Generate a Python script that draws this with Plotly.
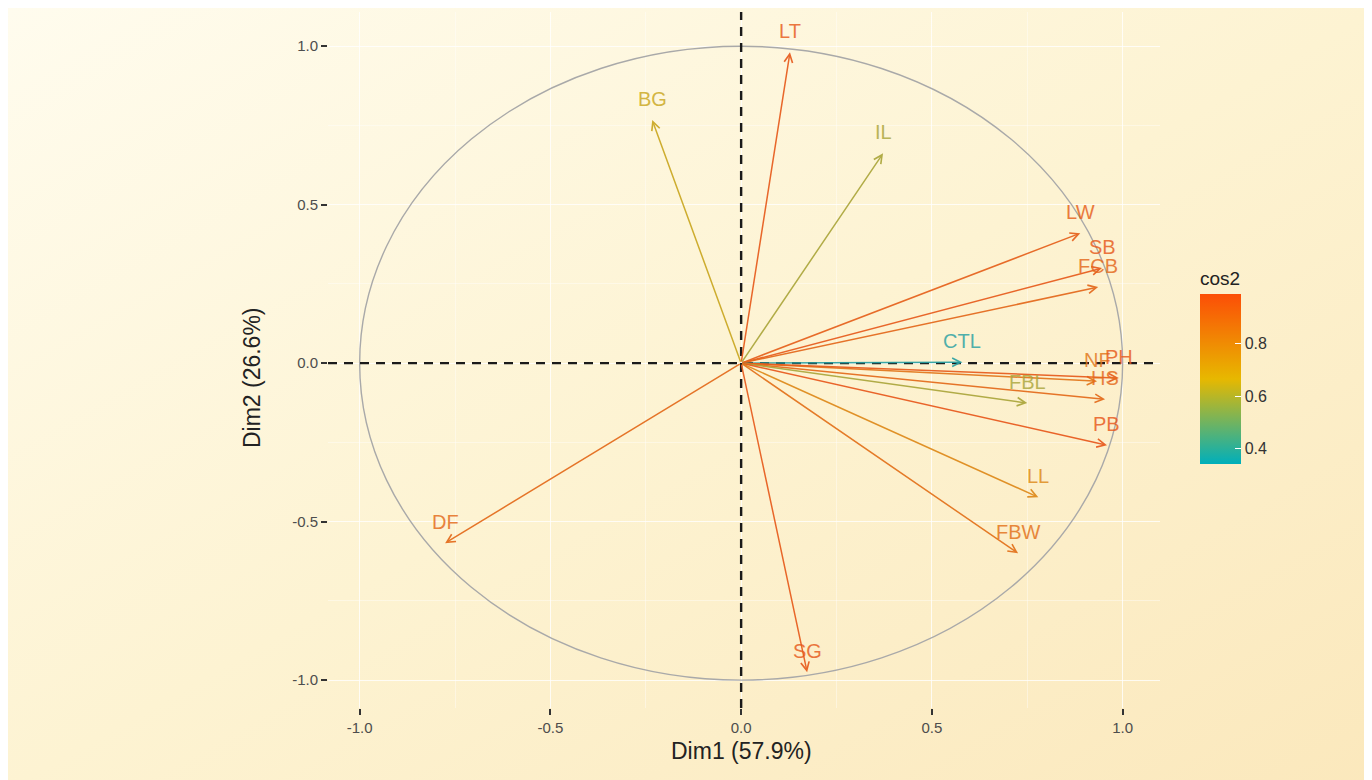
import base64
import plotly.graph_objects as go
from plotly.colors import sample_colorscale, unlabel_rgb

# ---- data ----
variables = ["LT", "BG", "IL", "LW", "SB", "FCB", "CTL", "NF", "PH", "HS",
             "FBL", "PB", "LL", "FBW", "SG", "DF"]
dim1 = [0.128, -0.233, 0.372, 0.889, 0.946, 0.936, 0.580, 0.933, 0.990, 0.954,
        0.750, 0.959, 0.779, 0.726, 0.173, -0.776]
dim2 = [0.981, 0.767, 0.662, 0.410, 0.300, 0.240, 0.003, -0.057, -0.047, -0.114,
        -0.126, -0.259, -0.423, -0.600, -0.975, -0.568]
cos2 = [0.98, 0.64, 0.58, 0.96, 0.98, 0.93, 0.34, 0.87, 0.98, 0.92,
        0.58, 0.99, 0.79, 0.89, 0.98, 0.92]
tick_vals = [-1.0, -0.5, 0.0, 0.5, 1.0]
tick_text = ["-1.0", "-0.5", "0.0", "0.5", "1.0"]
cbar_ticks = [0.4, 0.6, 0.8]
x_title = "Dim1 (57.9%)"
y_title = "Dim2 (26.6%)"
cbar_title = "cos2"

colorscale = [[0.0, "#00AFBB"], [0.5, "#E7B800"], [1.0, "#FC4E07"]]
cmin, cmax = min(cos2), max(cos2)

FONT = "Liberation Sans, Arial, Helvetica, sans-serif"
W, H = 1372, 780
OFF = 8  # page body margin
L, R, T, B = 320, 220, 4, 80
dom_w = W - L - R
dom_h = H - T - B


def fig_x(px):   # screen pixel -> paper x
    return (px - OFF - L) / dom_w


def fig_y(py):   # screen pixel -> paper y
    return (H - B - (py - OFF)) / dom_h


fig = go.Figure()

# dummy trace carrying the colour scale
fig.add_trace(go.Scatter(
    x=dim1, y=dim2, mode="markers", hoverinfo="skip", showlegend=False,
    marker=dict(size=0.1, opacity=0, color=cos2, colorscale=colorscale,
                cmin=cmin, cmax=cmax, showscale=True,
                colorbar=dict(
                    title=dict(text=cbar_title, side="top",
                               font=dict(size=19, color="#222", family=FONT)),
                    thickness=41, len=196, lenmode="pixels",
                    x=fig_x(1200), xanchor="left",
                    y=fig_y(366), yanchor="middle",
                    tickvals=cbar_ticks, ticks="inside", ticklen=6,
                    tickcolor="white", tickwidth=1.2,
                    tickfont=dict(size=16, color="#333", family=FONT),
                    outlinewidth=0, ypad=0, xpad=0,
                ))))

# correlation circle
fig.add_shape(type="circle", xref="x", yref="y", x0=-1, y0=-1, x1=1, y1=1,
              line=dict(color="#A9A9A9", width=1.4))
# dashed axes
fig.add_hline(y=0, line=dict(color="#1a1a1a", width=2.4, dash="9px,7px"))
fig.add_vline(x=0, line=dict(color="#1a1a1a", width=2.4, dash="9px,7px"))


def muted(rgb_str, k=0.25, base=(170, 120, 90)):
    r, g, b = unlabel_rgb(rgb_str)
    return "rgb(%d,%d,%d)" % tuple(int(round((1 - k) * c + k * m))
                                   for c, m in zip((r, g, b), base))


cols = [muted(sample_colorscale(colorscale, [(c - cmin) / (cmax - cmin)])[0])
        for c in cos2]

for name, x, y, col in zip(variables, dim1, dim2, cols):
    fig.add_annotation(x=x, y=y, ax=0, ay=0, xref="x", yref="y",
                       axref="x", ayref="y", text="", showarrow=True,
                       arrowhead=5, arrowsize=1.1, arrowwidth=1.5,
                       arrowcolor=col, standoff=0, opacity=0.92)
for name, x, y, col in zip(variables, dim1, dim2, cols):
    fig.add_annotation(x=x, y=y, xref="x", yref="y", text=name,
                       showarrow=False, yshift=21, xanchor="center",
                       yanchor="middle", opacity=0.82,
                       font=dict(size=20, color=col, family=FONT))

# axis titles
fig.add_annotation(x=0, y=0, xref="x", yref="paper", text=x_title,
                   showarrow=False, yanchor="top", yshift=-28,
                   font=dict(size=23, color="#222", family=FONT))
fig.add_annotation(x=fig_x(252), y=-0.047, xref="paper", yref="y",
                   text=y_title, textangle=-90, showarrow=False,
                   xanchor="center", yanchor="middle",
                   font=dict(size=23, color="#222", family=FONT))

grid_major = "rgba(255,255,255,0.65)"
grid_minor = "rgba(255,255,255,0.4)"
axis_common = dict(
    tickvals=tick_vals, ticktext=tick_text, showgrid=True, gridcolor=grid_major,
    gridwidth=1.3, zeroline=False, showline=False, ticks="outside", ticklen=6,
    tickwidth=1.6, tickcolor="#333",
    tickfont=dict(size=15, color="#4D4D4D", family=FONT),
    minor=dict(dtick=0.25, tick0=0, showgrid=True, gridcolor=grid_minor,
               gridwidth=0.8, ticks=""),
)
fig.update_xaxes(range=[-1.083, 1.098], **axis_common)
fig.update_yaxes(range=[-1.088, 1.108], **axis_common)

# warm background gradient
svg = ("<svg xmlns='http://www.w3.org/2000/svg' width='1372' height='780'>"
       "<defs><linearGradient id='g' x1='0' y1='0' x2='1' y2='1'>"
       "<stop offset='0' stop-color='#FFFCEE'/>"
       "<stop offset='0.5' stop-color='#FDF3D2'/>"
       "<stop offset='1' stop-color='#FBE8BC'/>"
       "</linearGradient></defs>"
       "<rect width='1372' height='780' fill='url(#g)'/></svg>")
src = "data:image/svg+xml;base64," + base64.b64encode(svg.encode()).decode()
fig.add_layout_image(dict(source=src, xref="paper", yref="paper",
                          x=-L / dom_w, y=1 + T / dom_h,
                          sizex=W / dom_w, sizey=H / dom_h,
                          xanchor="left", yanchor="top", sizing="stretch",
                          layer="below"))

fig.update_layout(
    width=W, height=H, margin=dict(l=L, r=R, t=T, b=B),
    paper_bgcolor="#FDF3D2", plot_bgcolor="rgba(0,0,0,0)",
    showlegend=False, font=dict(family=FONT),
)

fig.write_html("out.html")
